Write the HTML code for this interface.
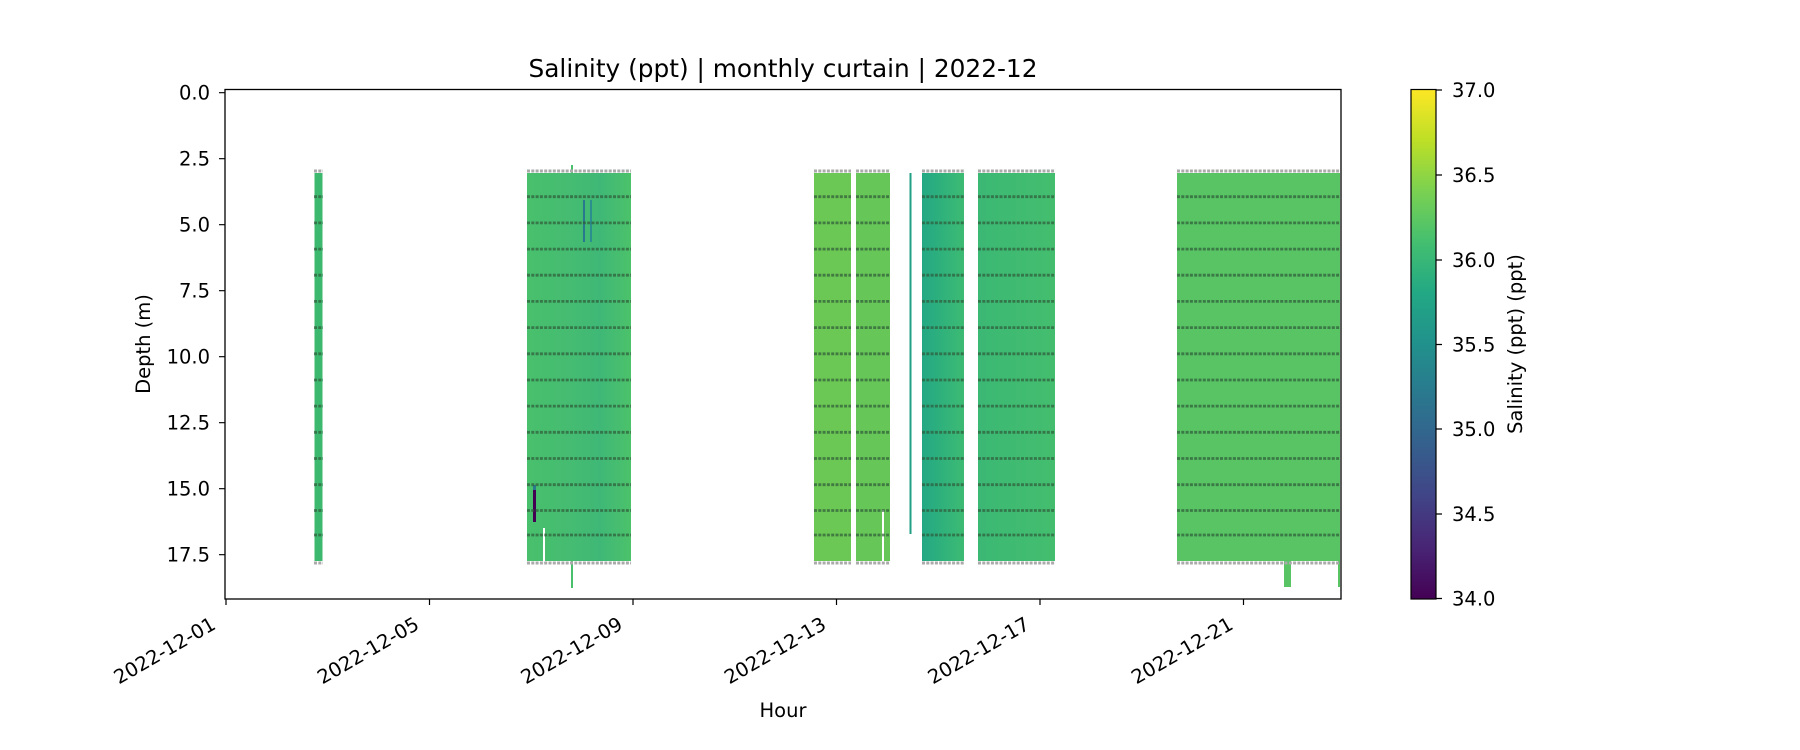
<!DOCTYPE html>
<html><head><meta charset="utf-8"><style>
html,body{margin:0;padding:0;background:#fff;}
svg{display:block;font-family:"DejaVu Sans","Liberation Sans",sans-serif;}
</style></head><body>
<svg width="1800" height="750" viewBox="0 0 1800 750" xmlns="http://www.w3.org/2000/svg">
<defs>
<linearGradient id="cb" x1="0" y1="1" x2="0" y2="0">
<stop offset="0" stop-color="#440154"/><stop offset="0.1" stop-color="#482475"/>
<stop offset="0.2" stop-color="#414487"/><stop offset="0.3" stop-color="#355f8d"/>
<stop offset="0.4" stop-color="#2a788e"/><stop offset="0.5" stop-color="#21918c"/>
<stop offset="0.6" stop-color="#22a884"/><stop offset="0.7" stop-color="#44bf70"/>
<stop offset="0.8" stop-color="#7ad151"/><stop offset="0.9" stop-color="#bddf26"/>
<stop offset="1" stop-color="#fde725"/></linearGradient>
<linearGradient id="b2" x1="0" x2="1"><stop offset="0" stop-color="#48c06c"/><stop offset="0.5" stop-color="#44bb72"/><stop offset="0.7" stop-color="#3fb877"/><stop offset="1" stop-color="#4cc26a"/></linearGradient>
<linearGradient id="b5" x1="0" x2="1"><stop offset="0" stop-color="#23a884"/><stop offset="1" stop-color="#3dbb73"/></linearGradient>
<linearGradient id="b6" x1="0" x2="1"><stop offset="0" stop-color="#3bb874"/><stop offset="1" stop-color="#44be6e"/></linearGradient>
</defs>
<g>
<rect x="314.5" y="173" width="8" height="388" fill="#3cb96e"/>
<rect x="527" y="173" width="104" height="388" fill="url(#b2)"/>
<rect x="814" y="173" width="37" height="388" fill="#6cc854"/>
<rect x="856" y="173" width="34" height="388" fill="#66c657"/>
<rect x="909.5" y="173" width="2" height="361" fill="#22a086"/>
<rect x="922" y="173" width="42" height="388" fill="url(#b5)"/>
<rect x="978" y="173" width="77" height="388" fill="url(#b6)"/>
<rect x="1177" y="173" width="163" height="388" fill="#58c464"/>
<rect x="533" y="489" width="3" height="33" fill="#440154"/>
<rect x="533" y="485" width="3" height="5" fill="#2a788e"/>
<rect x="583" y="200" width="2" height="42" fill="#2a788e"/>
<rect x="590" y="200" width="2" height="42" fill="#2a8f8e"/>
<rect x="571" y="560" width="2" height="28" fill="#48c06c"/>
<rect x="571" y="165" width="2" height="8" fill="#48c06c"/>
<rect x="1284" y="561" width="7" height="26" fill="#58c464"/>
<rect x="1338" y="561" width="2" height="26" fill="#58c464"/>
<rect x="543" y="528" width="2" height="33" fill="#fff"/>
<rect x="882" y="510" width="2" height="51" fill="#fff"/>
</g>
<g fill="none" stroke-dasharray="3 1.3">
<g stroke="#aaa" stroke-width="3">
<path d="M314,171h9 M527,171h104 M814,171h37 M856,171h34 M922,171h42 M978,171h77 M1177,171h163"/>
<path d="M314,563h9 M527,563h104 M814,563h37 M856,563h34 M922,563h42 M978,563h77 M1177,563h163"/>
</g>
<g stroke="#2f5a3a" stroke-width="2.8" stroke-opacity="0.7">
<path d="M314,196.7h9 M527,196.7h104 M814,196.7h37 M856,196.7h34 M922,196.7h42 M978,196.7h77 M1177,196.7h163"/>
<path d="M314,222.9h9 M527,222.9h104 M814,222.9h37 M856,222.9h34 M922,222.9h42 M978,222.9h77 M1177,222.9h163"/>
<path d="M314,249.1h9 M527,249.1h104 M814,249.1h37 M856,249.1h34 M922,249.1h42 M978,249.1h77 M1177,249.1h163"/>
<path d="M314,275.2h9 M527,275.2h104 M814,275.2h37 M856,275.2h34 M922,275.2h42 M978,275.2h77 M1177,275.2h163"/>
<path d="M314,301.4h9 M527,301.4h104 M814,301.4h37 M856,301.4h34 M922,301.4h42 M978,301.4h77 M1177,301.4h163"/>
<path d="M314,327.6h9 M527,327.6h104 M814,327.6h37 M856,327.6h34 M922,327.6h42 M978,327.6h77 M1177,327.6h163"/>
<path d="M314,353.8h9 M527,353.8h104 M814,353.8h37 M856,353.8h34 M922,353.8h42 M978,353.8h77 M1177,353.8h163"/>
<path d="M314,380h9 M527,380h104 M814,380h37 M856,380h34 M922,380h42 M978,380h77 M1177,380h163"/>
<path d="M314,406.1h9 M527,406.1h104 M814,406.1h37 M856,406.1h34 M922,406.1h42 M978,406.1h77 M1177,406.1h163"/>
<path d="M314,432.3h9 M527,432.3h104 M814,432.3h37 M856,432.3h34 M922,432.3h42 M978,432.3h77 M1177,432.3h163"/>
<path d="M314,458.5h9 M527,458.5h104 M814,458.5h37 M856,458.5h34 M922,458.5h42 M978,458.5h77 M1177,458.5h163"/>
<path d="M314,484.7h9 M527,484.7h104 M814,484.7h37 M856,484.7h34 M922,484.7h42 M978,484.7h77 M1177,484.7h163"/>
<path d="M314,510.5h9 M527,510.5h104 M814,510.5h37 M856,510.5h34 M922,510.5h42 M978,510.5h77 M1177,510.5h163"/>
<path d="M314,535h9 M527,535h104 M814,535h37 M856,535h34 M922,535h42 M978,535h77 M1177,535h163"/>
</g>
</g>
<rect x="225" y="89.5" width="1116" height="509.5" fill="none" stroke="#000" stroke-width="1.3"/>
<g stroke="#000" stroke-width="1.2">
<path d="M225,92.7h-6 M225,158.7h-6 M225,224.7h-6 M225,290.7h-6 M225,356.7h-6 M225,422.7h-6 M225,488.7h-6 M225,554.7h-6"/>
<path d="M226,599v6 M429.5,599v6 M633,599v6 M836.5,599v6 M1040,599v6 M1243.5,599v6"/>
</g>
<g font-size="19.5" text-anchor="end" fill="#000">
<text x="210" y="99.7">0.0</text><text x="210" y="165.7">2.5</text><text x="210" y="231.7">5.0</text>
<text x="210" y="297.7">7.5</text><text x="210" y="363.7">10.0</text><text x="210" y="429.7">12.5</text>
<text x="210" y="495.7">15.0</text><text x="210" y="561.7">17.5</text>
</g>
<g font-size="19.5" text-anchor="end" fill="#000">
<text transform="translate(217,628) rotate(-30)">2022-12-01</text>
<text transform="translate(420.5,628) rotate(-30)">2022-12-05</text>
<text transform="translate(624,628) rotate(-30)">2022-12-09</text>
<text transform="translate(827.5,628) rotate(-30)">2022-12-13</text>
<text transform="translate(1031,628) rotate(-30)">2022-12-17</text>
<text transform="translate(1234.5,628) rotate(-30)">2022-12-21</text>
</g>
<text x="783" y="717" font-size="19.5" text-anchor="middle">Hour</text>
<text transform="translate(150,344) rotate(-90)" font-size="19.5" text-anchor="middle">Depth (m)</text>
<text x="783" y="77" font-size="24.8" text-anchor="middle">Salinity (ppt) | monthly curtain | 2022-12</text>
<rect x="1411" y="89.5" width="25" height="509.5" fill="url(#cb)" stroke="#000" stroke-width="1.2"/>
<g stroke="#000" stroke-width="1.2"><path d="M1436,90h6 M1436,175h6 M1436,260h6 M1436,344.5h6 M1436,429h6 M1436,514h6 M1436,598.5h6"/></g>
<g font-size="19.5" fill="#000">
<text x="1452" y="97">37.0</text><text x="1452" y="182">36.5</text><text x="1452" y="267">36.0</text>
<text x="1452" y="351.5">35.5</text><text x="1452" y="436">35.0</text><text x="1452" y="521">34.5</text>
<text x="1452" y="605.5">34.0</text>
</g>
<text transform="translate(1522,344) rotate(-90)" font-size="19.5" text-anchor="middle">Salinity (ppt) (ppt)</text>
</svg>
</body></html>
